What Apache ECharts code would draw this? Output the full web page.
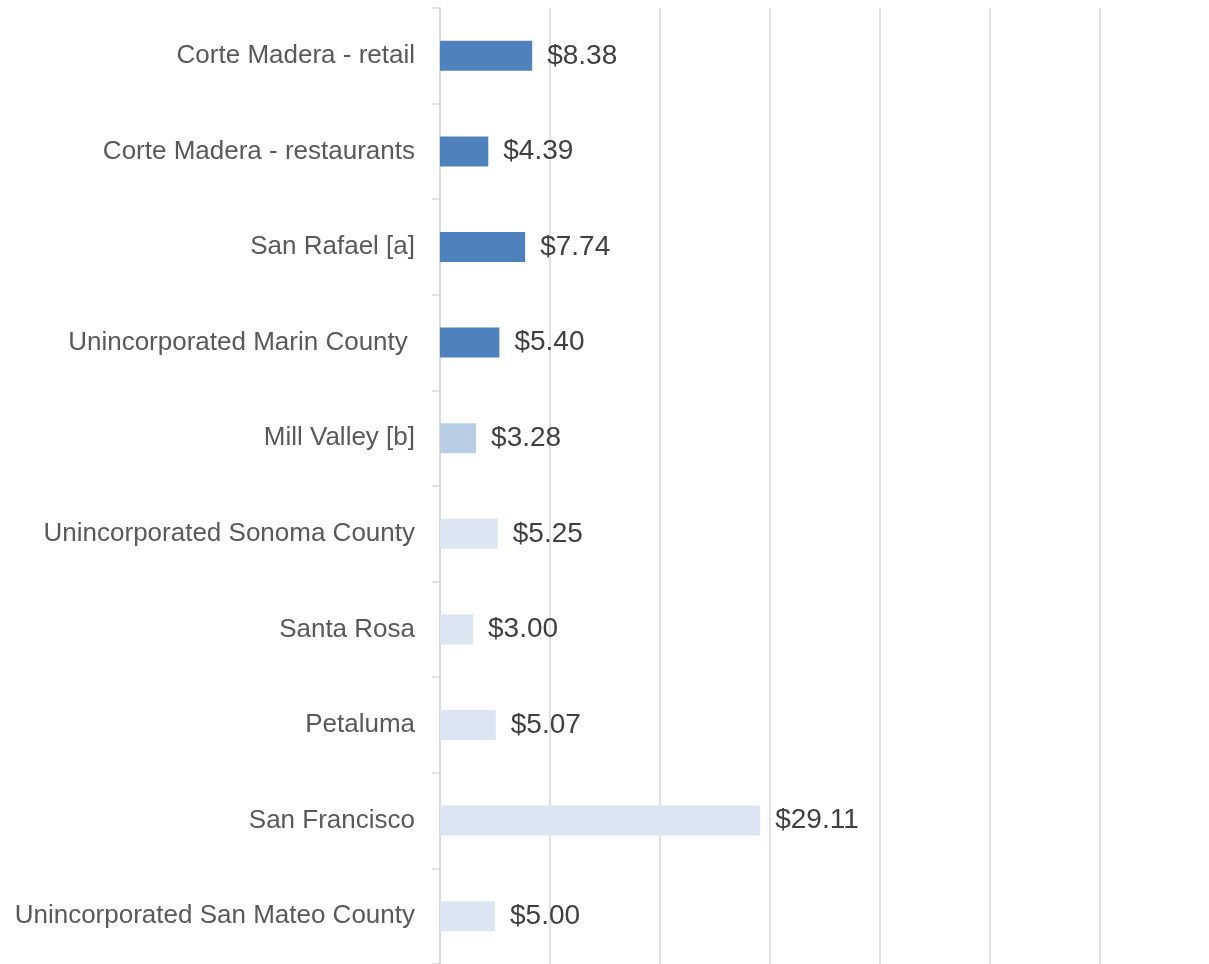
<!DOCTYPE html>
<html>
<head>
<meta charset="utf-8">
<script src="https://cdn.jsdelivr.net/npm/echarts@6/dist/echarts.min.js"></script>
<style>
html,body{margin:0;padding:0;background:#fff;}
#chart{width:1209px;height:964px;}
</style>
</head>
<body>
<div id="chart"></div>
<script>
// Data
var categories = [
  'Corte Madera - retail',
  'Corte Madera - restaurants',
  'San Rafael [a]',
  'Unincorporated Marin County ',
  'Mill Valley [b]',
  'Unincorporated Sonoma County',
  'Santa Rosa',
  'Petaluma',
  'San Francisco',
  'Unincorporated San Mateo County'
];
var values = [8.38, 4.39, 7.74, 5.40, 3.28, 5.25, 3.00, 5.07, 29.11, 5.00];
var groups = ['marin', 'marin', 'marin', 'marin', 'millvalley', 'other', 'other', 'other', 'other', 'other'];

var groupColors = { marin: '#4F81BD', millvalley: '#B9CDE5', other: '#DCE6F2' };

var chart = echarts.init(document.getElementById('chart'));
chart.setOption({
  animation: false,
  backgroundColor: '#ffffff',
  grid: { left: 440, top: 8, width: 660, height: 960, containLabel: false },
  xAxis: {
    type: 'value',
    min: 0,
    max: 60,
    interval: 10,
    axisLabel: { show: false },
    axisLine: { show: false },
    axisTick: { show: false },
    splitLine: { show: true, lineStyle: { color: '#D9D9D9', width: 1.5 } }
  },
  yAxis: {
    type: 'category',
    inverse: true,
    data: categories,
    axisLine: { show: true, lineStyle: { color: '#D9D9D9', width: 1.5 } },
    axisTick: { show: true, length: 8, lineStyle: { color: '#D9D9D9', width: 1.5 } },
    axisLabel: {
      margin: 25,
      color: '#595959',
      fontSize: 26,
      fontFamily: 'Liberation Sans'
    }
  },
  series: [{
    type: 'bar',
    barWidth: 30,
    data: values.map(function (v, i) {
      return { value: v, itemStyle: { color: groupColors[groups[i]] } };
    }),
    label: {
      show: true,
      position: 'right',
      distance: 15,
      color: '#404040',
      fontSize: 28,
      fontFamily: 'Liberation Sans',
      formatter: function (p) { return '$' + p.value.toFixed(2); }
    }
  }]
});
</script>
</body>
</html>
